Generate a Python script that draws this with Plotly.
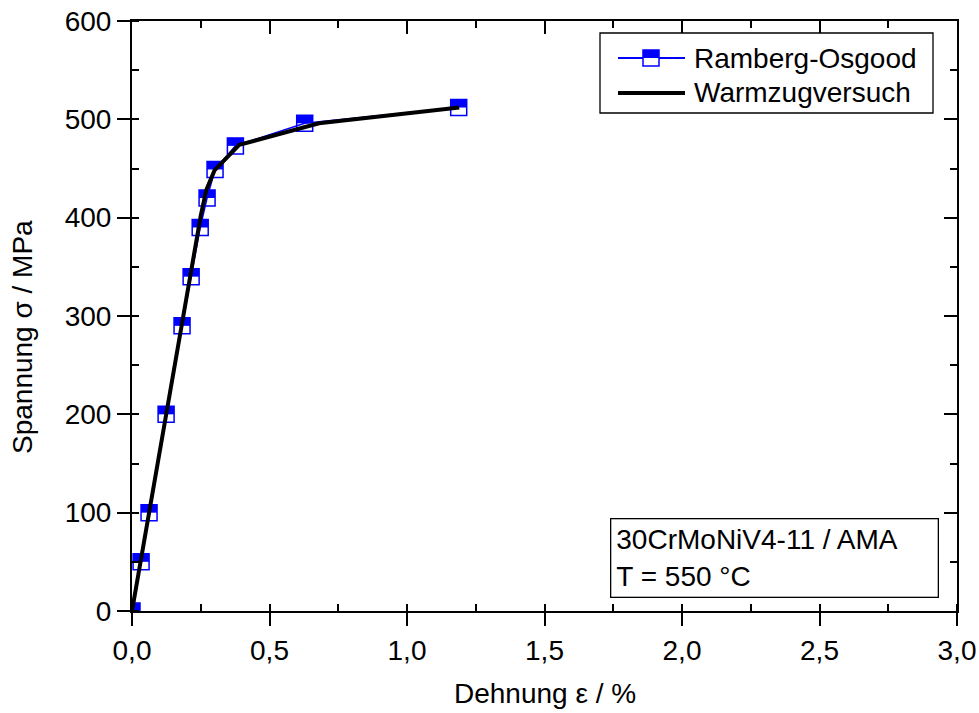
import plotly.graph_objects as go

# Ramberg-Osgood points
ro_x = [0.0, 0.033, 0.062, 0.124, 0.182, 0.215, 0.248, 0.273, 0.302, 0.376, 0.628, 1.188]
ro_y = [0, 50, 100, 200, 290, 340, 390, 420, 449, 473, 496, 512]

# Warmzugversuch curve
wz_x = [0.0, 0.25, 0.27, 0.30, 0.39, 0.68, 1.19]
wz_y = [0, 402, 428, 448, 474, 496, 512]

x_ticks = [0.0, 0.5, 1.0, 1.5, 2.0, 2.5, 3.0]
y_ticks = [0, 100, 200, 300, 400, 500, 600]

series_names = ["Ramberg-Osgood", "Warmzugversuch"]

FONT = "Arial, Liberation Sans, sans-serif"
BLUE = "#0000FF"
FS = 28

W, H = 979, 713
ML, MR, MT, MB = 132, 22, 21, 102
PW, PH = W - ML - MR, H - MT - MB


def px(xpix):
    return (xpix - ML) / PW


def py(ypix):
    return (H - MB - ypix) / PH


fig = go.Figure()
fig.add_trace(go.Scatter(
    x=ro_x, y=ro_y, mode="lines+markers", name=series_names[0],
    line=dict(color=BLUE, width=1.5),
    marker=dict(symbol="square-open", size=16, color=BLUE, line=dict(color=BLUE, width=1.5)),
    showlegend=False,
))
fig.add_trace(go.Scatter(
    x=wz_x, y=wz_y, mode="lines", name=series_names[1],
    line=dict(color="black", width=4), showlegend=False,
))
# dummy trace for the mirrored top/right axes
fig.add_trace(go.Scatter(x=[None], y=[None], xaxis="x2", yaxis="y2",
                         showlegend=False, hoverinfo="skip"))

shapes = []
# top half fill of each marker
for xv, yv in zip(ro_x, ro_y):
    shapes.append(dict(
        type="rect", xref="x", yref="y",
        xsizemode="pixel", ysizemode="pixel",
        xanchor=xv, yanchor=yv,
        x0=-8, x1=8, y0=0, y1=8,
        fillcolor=BLUE, line=dict(width=0), layer="below",
    ))

# ---- legend (drawn as layout decoration) ----
LEG_L, LEG_R, LEG_T, LEG_B = 600, 933, 33, 113
ROW1, ROW2 = 58, 93
shapes.append(dict(type="rect", xref="paper", yref="paper",
                   x0=px(LEG_L), x1=px(LEG_R), y0=py(LEG_B), y1=py(LEG_T),
                   line=dict(color="black", width=1.3), fillcolor="white", layer="above"))
shapes.append(dict(type="line", xref="paper", yref="paper",
                   x0=px(618), x1=px(685), y0=py(ROW1), y1=py(ROW1),
                   line=dict(color=BLUE, width=2), layer="above"))
shapes.append(dict(type="rect", xref="paper", yref="paper",
                   xsizemode="pixel", ysizemode="pixel",
                   xanchor=px(651), yanchor=py(ROW1), x0=-8, x1=8, y0=-8, y1=8,
                   line=dict(color=BLUE, width=1.5), fillcolor="white", layer="above"))
shapes.append(dict(type="rect", xref="paper", yref="paper",
                   xsizemode="pixel", ysizemode="pixel",
                   xanchor=px(651), yanchor=py(ROW1), x0=-8, x1=8, y0=0, y1=8,
                   line=dict(width=0), fillcolor=BLUE, layer="above"))
shapes.append(dict(type="line", xref="paper", yref="paper",
                   x0=px(618), x1=px(685), y0=py(ROW2), y1=py(ROW2),
                   line=dict(color="black", width=4), layer="above"))

axis_common = dict(
    showline=True, linecolor="black", linewidth=2,
    showgrid=False, zeroline=False, automargin=False,
    tickcolor="black", tickwidth=1.5, ticklen=13,
)

annotations = [
    dict(text="Spannung σ / MPa", textangle=-90,
         xref="paper", yref="paper", x=px(22), y=py(337),
         xanchor="center", yanchor="middle", showarrow=False,
         font=dict(family=FONT, size=FS)),
    dict(text="Dehnung ε / %",
         xref="paper", yref="paper", x=0.5, y=py(693),
         xanchor="center", yanchor="middle", showarrow=False,
         font=dict(family=FONT, size=FS)),
    dict(text="30CrMoNiV4-11 / AMA<br>T = 550 °C", align="left",
         xref="paper", yref="paper", x=px(939), y=py(598),
         xanchor="right", yanchor="bottom", showarrow=False,
         bordercolor="black", borderwidth=1.3, borderpad=5, bgcolor="white",
         width=316, font=dict(family=FONT, size=FS)),
]
for name, row in zip(series_names, [ROW1, ROW2]):
    annotations.append(dict(
        text=name, xref="paper", yref="paper", x=px(692), y=py(row),
        xanchor="left", yanchor="middle", showarrow=False,
        font=dict(family=FONT, size=FS)))

fig.update_layout(
    width=W, height=H,
    margin=dict(l=ML, r=MR, t=MT, b=MB),
    paper_bgcolor="white", plot_bgcolor="white",
    separators=",.",
    font=dict(family=FONT, size=FS, color="black"),
    showlegend=False,
    xaxis=dict(
        range=[0, 3.0], tickvals=x_ticks, tickformat=".1f", ticks="outside",
        minor=dict(dtick=0.25, ticks="inside", ticklen=7, tickwidth=1.5, tickcolor="black"),
        tickfont=dict(family=FONT, size=FS),
        **axis_common,
    ),
    yaxis=dict(
        range=[0, 600], tickvals=y_ticks, ticks="outside",
        minor=dict(dtick=50, ticks="inside", ticklen=7, tickwidth=1.5, tickcolor="black"),
        tickfont=dict(family=FONT, size=FS),
        **axis_common,
    ),
    xaxis2=dict(
        overlaying="x", side="top", anchor="y", range=[0, 3.0], tickvals=x_ticks,
        ticks="inside", showticklabels=False,
        minor=dict(dtick=0.25, ticks="inside", ticklen=7, tickwidth=1.5, tickcolor="black"),
        **axis_common,
    ),
    yaxis2=dict(
        overlaying="y", side="right", anchor="x", range=[0, 600], tickvals=y_ticks,
        ticks="inside", showticklabels=False,
        minor=dict(dtick=50, ticks="inside", ticklen=7, tickwidth=1.5, tickcolor="black"),
        **axis_common,
    ),
    shapes=shapes,
    annotations=annotations,
)

fig.write_html("out.html")
